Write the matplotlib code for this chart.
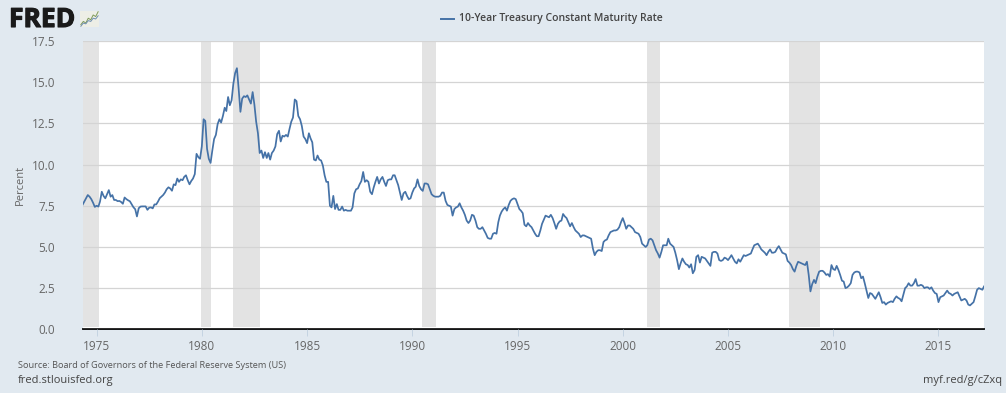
import matplotlib
matplotlib.use("Agg")
import matplotlib.dates as mdates
import matplotlib.patheffects as pe
import matplotlib.pyplot as plt
import pandas as pd

W, H = 1006, 393
BG = "#E1E9F0"
LINE = "#4572A7"

start_month = "1974-05-01"
rates = [
    7.55, 7.75, 7.95, 8.15, 8.05, 7.90, 7.68, 7.43,  # 1974
    7.50, 7.45, 7.75, 8.35, 8.10, 7.95, 8.20, 8.45, 8.05, 8.15, 7.85, 7.85,
    7.78, 7.79, 7.73, 7.62, 8.00, 7.90, 7.83, 7.77, 7.59, 7.41, 7.29, 6.85,
    7.35, 7.45, 7.46, 7.46, 7.46, 7.25, 7.38, 7.40, 7.34, 7.58, 7.58, 7.75,
    7.96, 8.06, 8.15, 8.30, 8.50, 8.62, 8.55, 8.41, 8.80, 8.75, 9.15, 8.95,
    9.10, 9.05, 9.25, 9.35, 9.05, 8.80, 9.00, 9.15, 9.42, 10.65, 10.45, 10.35,  # 1979
    11.10, 12.75, 12.65, 10.95, 10.35, 10.10, 10.85, 11.55, 11.80, 12.45, 12.75, 12.55,
    12.95, 13.45, 13.25, 14.10, 13.60, 13.90, 14.90, 15.55, 15.85, 14.60, 13.20, 14.00,
    14.15, 14.10, 14.20, 13.95, 13.70, 14.40, 13.65, 12.60, 11.90, 10.70, 10.85, 10.40,
    10.75, 10.40, 10.70, 10.30, 10.70, 10.85, 11.10, 11.85, 12.05, 11.40, 11.75, 11.70,
    11.80, 11.70, 12.15, 12.60, 12.85, 13.95, 13.85, 12.95, 12.75, 12.35, 11.70, 11.55,  # 1984
    11.30, 11.90, 11.60, 11.35, 10.30, 10.25, 10.55, 10.30, 10.25, 9.95, 9.35, 8.95,
    8.95, 7.50, 7.40, 8.10, 7.30, 7.60, 7.25, 7.25, 7.45, 7.20, 7.25, 7.20,
    7.20, 7.20, 7.40, 8.25, 8.50, 8.55, 8.80, 9.00, 9.55, 8.95, 9.05, 8.95,
    8.35, 8.20, 8.60, 8.95, 9.25, 8.85, 9.10, 9.25, 8.95, 8.70, 9.05, 9.10,
    9.10, 9.35, 9.35, 9.05, 8.75, 8.30, 7.85, 8.25, 8.35, 8.10, 7.90, 7.95,  # 1989
    8.30, 8.55, 8.65, 9.10, 8.70, 8.50, 8.40, 8.85, 8.85, 8.80, 8.50, 8.20,
    8.10, 8.05, 8.05, 8.05, 8.10, 8.30, 8.30, 7.80, 7.55, 7.50, 7.45, 6.90,
    7.30, 7.40, 7.45, 7.65, 7.40, 7.20, 6.95, 6.60, 6.45, 6.60, 6.95, 6.90,
    6.60, 6.20, 6.10, 6.10, 6.20, 6.00, 5.80, 5.55, 5.50, 5.50, 5.80, 5.85,
    5.80, 6.50, 6.90, 7.15, 7.30, 7.40, 7.20, 7.55, 7.80, 7.90, 7.95, 7.90,  # 1994
    7.60, 7.30, 7.20, 7.05, 6.35, 6.25, 6.45, 6.30, 6.20, 6.00, 5.80, 5.65,
    5.65, 6.00, 6.40, 6.65, 6.90, 6.85, 6.80, 6.95, 6.75, 6.45, 6.10, 6.40,
    6.55, 6.60, 7.00, 6.85, 6.75, 6.50, 6.25, 6.45, 6.20, 6.00, 5.90, 5.80,
    5.60, 5.70, 5.70, 5.65, 5.60, 5.55, 5.50, 4.90, 4.50, 4.70, 4.80, 4.80,
    4.75, 5.30, 5.40, 5.45, 5.70, 5.90, 5.95, 6.00, 6.00, 6.05, 6.20, 6.50,  # 1999
    6.75, 6.45, 6.10, 6.30, 6.30, 6.20, 6.10, 5.90, 5.85, 5.80, 5.60, 5.20,
    5.10, 5.00, 5.10, 5.45, 5.50, 5.40, 5.10, 4.80, 4.60, 4.35, 4.70, 5.10,
    5.10, 5.10, 5.50, 5.20, 5.10, 5.00, 4.65, 4.20, 3.65, 4.00, 4.30, 4.10,
    3.95, 3.90, 3.75, 3.95, 3.40, 3.60, 4.40, 4.50, 4.05, 4.40, 4.35, 4.30,
    4.15, 4.00, 3.85, 4.65, 4.70, 4.70, 4.60, 4.20, 4.15, 4.20, 4.35, 4.30,  # 2004
    4.20, 4.35, 4.50, 4.30, 4.10, 4.00, 4.25, 4.10, 4.30, 4.50, 4.45, 4.50,
    4.55, 4.60, 4.85, 5.10, 5.15, 5.20, 5.05, 4.85, 4.75, 4.65, 4.50, 4.70,
    4.85, 4.65, 4.65, 4.70, 4.90, 5.05, 4.85, 4.65, 4.60, 4.55, 4.15, 4.05,
    3.90, 3.65, 3.50, 3.85, 4.10, 4.05, 4.00, 3.95, 3.90, 4.10, 3.30, 2.30,
    2.75, 3.00, 2.80, 3.20, 3.50, 3.55, 3.55, 3.45, 3.30, 3.35, 3.20, 3.90,  # 2009
    3.65, 3.60, 3.85, 3.60, 3.30, 2.95, 2.90, 2.50, 2.55, 2.65, 2.80, 3.30,
    3.45, 3.50, 3.50, 3.45, 3.10, 3.20, 2.80, 2.35, 1.90, 2.20, 2.15, 2.00,
    1.85, 2.05, 2.25, 1.95, 1.60, 1.65, 1.50, 1.60, 1.65, 1.70, 1.65, 1.85,
    2.00, 1.90, 1.85, 1.70, 2.10, 2.50, 2.60, 2.80, 2.65, 2.65, 2.80, 3.05,
    2.65, 2.65, 2.70, 2.65, 2.50, 2.55, 2.55, 2.45, 2.55, 2.35, 2.20, 2.15,  # 2014
    1.65, 1.95, 2.00, 2.05, 2.20, 2.35, 2.20, 2.15, 2.05, 2.15, 2.20, 2.25,
    2.00, 1.75, 1.80, 1.85, 1.75, 1.50, 1.45, 1.55, 1.65, 2.00, 2.40, 2.50,
    2.45, 2.40, 2.60,
]

recession_starts = ["1974-05-01", "1979-12-20", "1981-06-20", "1990-06-20", "2001-03-01", "2007-12-01"]
recession_ends = ["1975-02-10", "1980-06-15", "1982-10-10", "1991-02-15", "2001-10-15", "2009-05-10"]
y_ticks = [0, 2.5, 5, 7.5, 10, 12.5, 15, 17.5]
x_years = [1975, 1980, 1985, 1990, 1995, 2000, 2005, 2010, 2015]
logo_line_a = [1, 3, 2, 5, 4, 7, 6, 9]
logo_line_b = [0, 2, 1.5, 3.5, 3, 5, 4.5, 6.5]


def fig_text(fig, x, y, s, **kw):
    # x, y in reference pixels, top-left origin
    return fig.text(x / W, 1 - y / H, s, **kw)


def main():
    plt.rcParams["font.family"] = ["Open Sans", "DejaVu Sans"]

    dates = pd.date_range(start_month, periods=len(rates), freq="MS")

    fig = plt.figure(figsize=(W / 100, H / 100), dpi=100, facecolor=BG)
    ax = fig.add_axes([83 / W, 1 - 329.3 / H, (984 - 83) / W, (329.3 - 41) / H])

    for s, e in zip(recession_starts, recession_ends):
        ax.axvspan(pd.Timestamp(s), pd.Timestamp(e), ymin=0.007, color="#E3E3E3", lw=0, zorder=1)

    ax.plot(dates, rates, color=LINE, lw=1.25, zorder=3, solid_joinstyle="round")

    ax.set_xlim(pd.Timestamp("1974-05-10"), pd.Timestamp("2017-03-01"))
    ax.set_ylim(0, 17.5)
    ax.set_yticks(y_ticks)
    ax.set_yticklabels([f"{v:.1f}" for v in y_ticks])
    ax.set_xticks([pd.Timestamp(f"{y}-01-01") for y in x_years])
    ax.xaxis.set_major_formatter(mdates.DateFormatter("%Y"))
    ax.grid(axis="y", color="#D4D4D4", lw=0.9, zorder=2)
    ax.set_axisbelow(False)
    ax.tick_params(axis="y", length=0, pad=20, labelsize=8.5, labelcolor="#666666")
    ax.tick_params(axis="x", length=5, width=0.6, color="#C0D0E0", pad=3, labelsize=8.5, labelcolor="#666666")
    for side in ["top", "left", "right"]:
        ax.spines[side].set_visible(False)
    ax.spines["bottom"].set_color("black")
    ax.spines["bottom"].set_linewidth(1.3)

    fig_text(fig, 20, 185, "Percent", rotation=90, ha="center", va="center", fontsize=8, color="#666666")

    # legend in the header band
    fig.add_artist(plt.Line2D([441 / W, 454 / W], [1 - 19 / H] * 2, color=LINE, lw=1.4))
    fig_text(fig, 459, 19, "10-Year Treasury Constant Maturity Rate", ha="left", va="center",
             fontsize=7.5, fontweight="semibold", color="#444444")

    fig_text(fig, 18, 366, "Source: Board of Governors of the Federal Reserve System (US)", ha="left", va="center",
             fontsize=6.6, color="#555555")
    fig_text(fig, 18, 381, "fred.stlouisfed.org", ha="left", va="center", fontsize=8, color="#444444")
    fig_text(fig, 1002, 381, "myf.red/g/cZxq", ha="right", va="center", fontsize=8, color="#444444")

    # FRED logo
    logo = fig_text(fig, 9, 27, "FRED", ha="left", va="baseline", fontsize=19, fontweight="bold", color="#1A1A1A")
    logo.set_path_effects([pe.withStroke(linewidth=0.8, foreground="#1A1A1A")])
    icon = fig.add_axes([80 / W, 1 - 27 / H, 19 / W, 16 / H], facecolor="#EDEEE6")
    icon.plot(logo_line_a, color="#7F9A5A", lw=0.7)
    icon.plot(logo_line_b, color="#6F8FB0", lw=0.7)
    icon.set_xticks([])
    icon.set_yticks([])
    for spine in icon.spines.values():
        spine.set_visible(False)

    fig.savefig("out.png", dpi=100, facecolor=BG)


if __name__ == "__main__":
    main()
